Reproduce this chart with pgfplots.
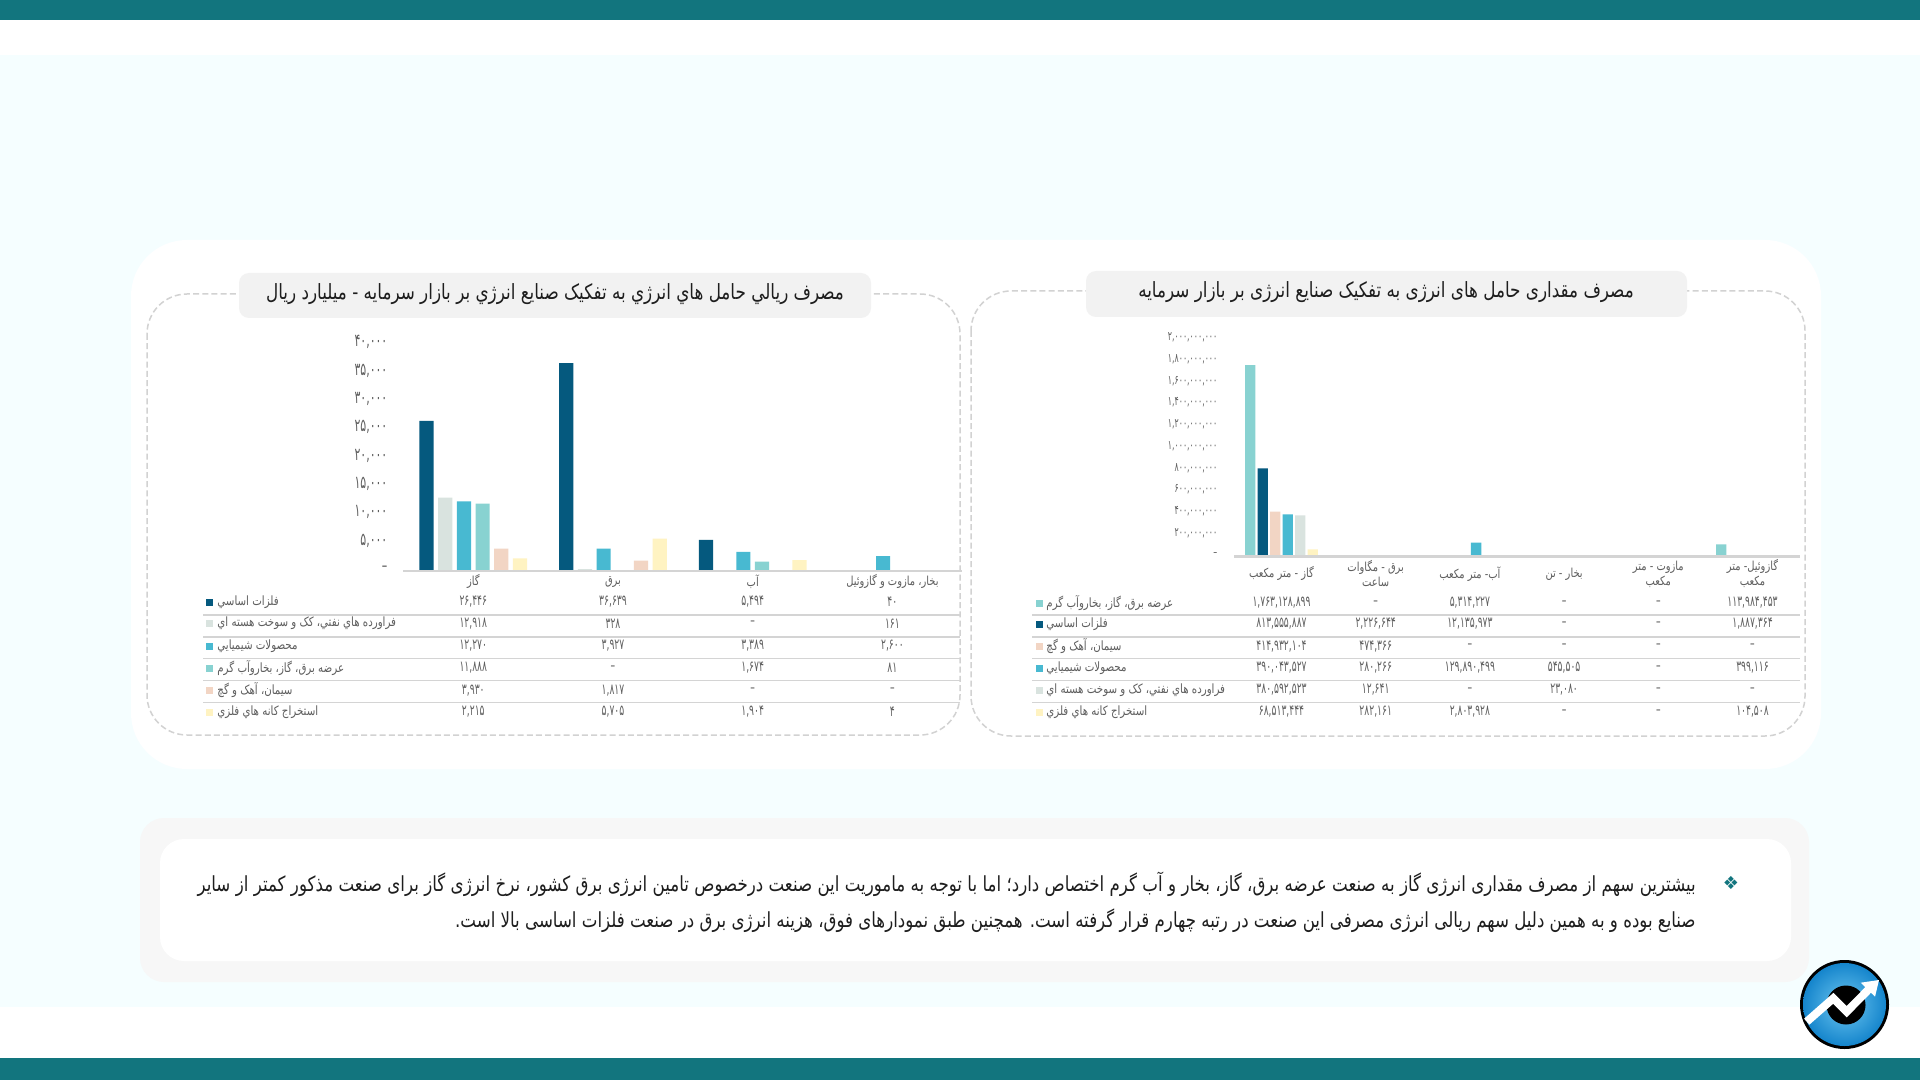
\documentclass[border=0pt]{standalone}
\usepackage{pgfplots}
\pgfplotsset{compat=1.18}
\usepackage{fontspec}
\setmainfont{DejaVu Sans}
\TeXXeTstate=1
\newfontfamily\fa[Script=Arabic,FakeStretch=0.80]{DejaVu Sans}
\newfontfamily\fn[Script=Arabic,FakeStretch=0.62]{DejaVu Sans}
\newfontfamily\fs{DejaVu Sans}
\definecolor{cmet}{HTML}{05597E}
\definecolor{cpet}{HTML}{D9E3DF}
\definecolor{cche}{HTML}{48B9D1}
\definecolor{cuti}{HTML}{88D2D1}
\definecolor{ccem}{HTML}{F2D5C4}
\definecolor{cmin}{HTML}{FFF3C2}
\definecolor{cbar}{HTML}{12757E}
\definecolor{cbg}{HTML}{F5FEFF}
\definecolor{cpill}{HTML}{F2F2F2}
\definecolor{cdash}{HTML}{D2D2D2}
\definecolor{cline}{HTML}{D4D4D4}
\definecolor{ctxt}{HTML}{5E5E5E}
\definecolor{ctitle}{HTML}{1E1E1E}
\definecolor{lgin}{HTML}{6CC6F0}
\definecolor{lgout}{HTML}{1585CC}
\newcommand\cell[2]{\node[text=ctxt,font=\fontsize{7.4}{9}\fn] at (#1) {#2};}
\newcommand\LRow[7]{%
  \fill[#2] (206,#1-3.5) rectangle (212.5,#1+3.5);
  \node[anchor=west,inner sep=0pt,text=ctxt,font=\fontsize{6.4}{8}\fa] at (217,#1) {#3};
  \cell{473.3,#1}{#4}\cell{613,#1}{#5}\cell{752.7,#1}{#6}\cell{892.4,#1}{#7}}
\newcommand\RRow[9]{%
  \fill[#2] (1036,#1-3.5) rectangle (1042.5,#1+3.5);
  \node[anchor=west,inner sep=0pt,text=ctxt,font=\fontsize{6.4}{8}\fa] at (1046,#1) {#3};
  \cell{1281.5,#1}{#4}\cell{1375.7,#1}{#5}\cell{1469.9,#1}{#6}\cell{1564.1,#1}{#7}\cell{1658.3,#1}{#8}\cell{1752.5,#1}{#9}}
\pgfplotsset{common/.style={
  scale only axis, axis lines*=left, axis on top,
  y axis line style={draw=none},
  x axis line style={draw=cline,line width=1.25pt},
  major tick length=0pt, tick style={draw=none},
  ymin=0, scaled y ticks=false,
  ybar, clip=false,
  every axis plot/.append style={draw=none},
  tick label style={text=ctxt},
}}
\begin{document}
\begin{tikzpicture}
\begin{scope}[x=0.5pt,y=-0.5pt]
\useasboundingbox (0,0) rectangle (1920,1080);
\fill[white] (0,0) rectangle (1920,1080);
\fill[cbg] (0,55) rectangle (1920,1007);
\fill[cbar] (0,0) rectangle (1920,20);
\fill[cbar] (0,1058) rectangle (1920,1080);
\fill[white,rounded corners=28pt] (131,240) rectangle (1821,769);
\draw[cdash,line width=0.75pt,dash pattern=on 3pt off 1.6pt,rounded corners=20pt] (147,294) rectangle (960,735);
\draw[cdash,line width=0.75pt,dash pattern=on 3pt off 1.6pt,rounded corners=20pt] (971,291) rectangle (1805,736);
\fill[cpill,rounded corners=5pt] (239,273) rectangle (871,318);
\fill[cpill,rounded corners=5pt] (1086,271) rectangle (1687,317);
\node[text=ctitle,font=\fontsize{10.5}{12}\fa] at (555,294) {\beginR مصرف ريالي حامل هاي انرژي به تفکيک صنايع انرژي بر بازار سرمايه - ميليارد ريال\endR};
\node[text=ctitle,font=\fontsize{10.5}{12}\fa] at (1386,292) {\beginR مصرف مقداری حامل های انرژی به تفکیک صنایع انرژی بر بازار سرمایه\endR};
\fill[black!3,rounded corners=12pt] (140,818) rectangle (1809,982);
\fill[white,rounded corners=12pt] (160,839) rectangle (1791,961);
\foreach \y in {615,636.8,658.6,680.6,702.7}{
  \draw[cline,line width=0.7pt] (203,\y) -- (960,\y);
  \draw[cline,line width=0.7pt] (1032,\y) -- (1800,\y);
}
\coordinate (LA) at (403.4,571);
\coordinate (RA) at (1234.4,556.7);
\end{scope}

% LEFT CHART
\begin{axis}[common, at={(LA)}, anchor=south west,
  width=279.45pt, height=113.5pt,
  xmin=-0.5, xmax=3.5, ymax=40000,
  bar width=7.1pt, ybar=2.25pt,
  xtick={0,1,2,3},
  xticklabels={{\beginR گاز\endR},{\beginR برق\endR},{\beginR آب\endR},{\beginR بخار، مازوت و گازوئيل\endR}},
  xticklabel style={font=\fontsize{6.2}{8}\fa, anchor=center, yshift=-5.4pt},
  ytick={0,5000,10000,15000,20000,25000,30000,35000,40000},
  yticklabels={{–},{۵,۰۰۰},{۱۰,۰۰۰},{۱۵,۰۰۰},{۲۰,۰۰۰},{۲۵,۰۰۰},{۳۰,۰۰۰},{۳۵,۰۰۰},{۴۰,۰۰۰}},
  yticklabel style={font=\fontsize{8.8}{10}\fn, xshift=-4.5pt, yshift=1pt},
]
\addplot[fill=cmet] coordinates {(0,26446) (1,36639) (2,5494) (3,40)};
\addplot[fill=cpet] coordinates {(0,12918) (1,328) (2,0) (3,161)};
\addplot[fill=cche] coordinates {(0,12270) (1,3927) (2,3389) (3,2600)};
\addplot[fill=cuti] coordinates {(0,11888) (1,0) (2,1674) (3,81)};
\addplot[fill=ccem] coordinates {(0,3930) (1,1817) (2,0) (3,0)};
\addplot[fill=cmin] coordinates {(0,2215) (1,5705) (2,1904) (3,4)};
\end{axis}

% RIGHT CHART
\begin{axis}[common, at={(RA)}, anchor=south west,
  width=282.6pt, height=108.7pt,
  xmin=-0.5, xmax=5.5, ymax=2000000000,
  bar width=5.2pt, ybar=1.05pt,
  xtick={0,1,2,3,4,5},
  xticklabels={{\beginR گاز - متر مکعب\endR},{\beginR برق - مگاوات\endR\\\beginR ساعت\endR},{\beginR آب- متر مکعب\endR},{\beginR بخار - تن\endR},{\beginR مازوت - متر\endR\\\beginR مکعب\endR},{\beginR گازوئیل- متر\endR\\\beginR مکعب\endR}},
  xticklabel style={font=\fontsize{6.2}{7.5}\fa, anchor=center, align=center, yshift=-8.6pt},
  ytick={0,200000000,400000000,600000000,800000000,1000000000,1200000000,1400000000,1600000000,1800000000,2000000000},
  yticklabels={{–},{۲۰۰,۰۰۰,۰۰۰},{۴۰۰,۰۰۰,۰۰۰},{۶۰۰,۰۰۰,۰۰۰},{۸۰۰,۰۰۰,۰۰۰},{۱,۰۰۰,۰۰۰,۰۰۰},{۱,۲۰۰,۰۰۰,۰۰۰},{۱,۴۰۰,۰۰۰,۰۰۰},{۱,۶۰۰,۰۰۰,۰۰۰},{۱,۸۰۰,۰۰۰,۰۰۰},{۲,۰۰۰,۰۰۰,۰۰۰}},
  yticklabel style={font=\fontsize{6.3}{8}\fn, xshift=-5pt, yshift=1pt},
]
\addplot[fill=cuti] coordinates {(0,1763128899) (1,0) (2,5314227) (3,0) (4,0) (5,113984453)};
\addplot[fill=cmet] coordinates {(0,813555887) (1,2226644) (2,12135973) (3,0) (4,0) (5,1887364)};
\addplot[fill=ccem] coordinates {(0,414932104) (1,474366) (2,0) (3,0) (4,0) (5,0)};
\addplot[fill=cche] coordinates {(0,390043527) (1,280266) (2,129890499) (3,545505) (4,0) (5,399116)};
\addplot[fill=cpet] coordinates {(0,380592523) (1,12641) (2,0) (3,23080) (4,0) (5,0)};
\addplot[fill=cmin] coordinates {(0,68513444) (1,282161) (2,2803928) (3,0) (4,0) (5,104508)};
\end{axis}

\begin{scope}[x=0.5pt,y=-0.5pt]
% LEFT TABLE
\LRow{602}{cmet}{\beginR فلزات اساسي\endR}{۲۶,۴۴۶}{۳۶,۶۳۹}{۵,۴۹۴}{۴۰}
\LRow{623.5}{cpet}{\beginR فراورده هاي نفتي، کک و سوخت هسته اي\endR}{۱۲,۹۱۸}{۳۲۸}{–}{۱۶۱}
\LRow{646}{cche}{\beginR محصولات شيميايي\endR}{۱۲,۲۷۰}{۳,۹۲۷}{۳,۳۸۹}{۲,۶۰۰}
\LRow{668}{cuti}{\beginR عرضه برق، گاز، بخاروآب گرم\endR}{۱۱,۸۸۸}{–}{۱,۶۷۴}{۸۱}
\LRow{690.5}{ccem}{\beginR سيمان، آهک و گچ\endR}{۳,۹۳۰}{۱,۸۱۷}{–}{–}
\LRow{712}{cmin}{\beginR استخراج کانه هاي فلزي\endR}{۲,۲۱۵}{۵,۷۰۵}{۱,۹۰۴}{۴}
% RIGHT TABLE
\RRow{603}{cuti}{\beginR عرضه برق، گاز، بخاروآب گرم\endR}{۱,۷۶۳,۱۲۸,۸۹۹}{–}{۵,۳۱۴,۲۲۷}{–}{–}{۱۱۳,۹۸۴,۴۵۳}
\RRow{624}{cmet}{\beginR فلزات اساسي\endR}{۸۱۳,۵۵۵,۸۸۷}{۲,۲۲۶,۶۴۴}{۱۲,۱۳۵,۹۷۳}{–}{–}{۱,۸۸۷,۳۶۴}
\RRow{646.5}{ccem}{\beginR سيمان، آهک و گچ\endR}{۴۱۴,۹۳۲,۱۰۴}{۴۷۴,۳۶۶}{–}{–}{–}{–}
\RRow{668}{cche}{\beginR محصولات شيميايي\endR}{۳۹۰,۰۴۳,۵۲۷}{۲۸۰,۲۶۶}{۱۲۹,۸۹۰,۴۹۹}{۵۴۵,۵۰۵}{–}{۳۹۹,۱۱۶}
\RRow{690}{cpet}{\beginR فراورده هاي نفتي، کک و سوخت هسته اي\endR}{۳۸۰,۵۹۲,۵۲۳}{۱۲,۶۴۱}{–}{۲۳,۰۸۰}{–}{–}
\RRow{712}{cmin}{\beginR استخراج کانه هاي فلزي\endR}{۶۸,۵۱۳,۴۴۴}{۲۸۲,۱۶۱}{۲,۸۰۳,۹۲۸}{–}{–}{۱۰۴,۵۰۸}
% BODY TEXT
\node[anchor=east,inner sep=0pt,text=ctitle,font=\fontsize{10.4}{12}\fa] at (1696,884)
 {\hbox to 749pt{\beginR بیشترین سهم از مصرف مقداری انرژی گاز به صنعت عرضه برق، گاز، بخار و آب گرم اختصاص دارد؛ اما با توجه به ماموریت این صنعت درخصوص تامین انرژی برق کشور، نرخ انرژی گاز برای صنعت مذکور کمتر از سایر\endR}};
\node[anchor=east,inner sep=0pt,text=ctitle,font=\fontsize{10.4}{12}\fa] at (1696,921)
 {\beginR صنایع بوده و به همین دلیل سهم ریالی انرژی مصرفی این صنعت در رتبه چهارم قرار گرفته است. همچنین طبق نمودارهای فوق، هزینه انرژی برق در صنعت فلزات اساسی بالا است.\endR};
\node[text=cbar,font=\fontsize{9}{10}\fs] at (1731,883) {❖};
% LOGO
\fill[black] (1844.5,1004.5) circle[radius=44.5];
\shade[inner color=lgin,outer color=lgout] (1844.5,1004.5) circle[radius=41.5];
\fill[black] (1846,1005) circle[radius=19.5];
\draw[white,line width=4pt,line join=miter] (1806.7,1021.7) -- (1833.3,998.3) -- (1846.7,1011.7) -- (1870,988);
\fill[white] (1879,980) -- (1860.7,982.7) -- (1875,996.7) -- cycle;
\end{scope}
\end{tikzpicture}
\end{document}
